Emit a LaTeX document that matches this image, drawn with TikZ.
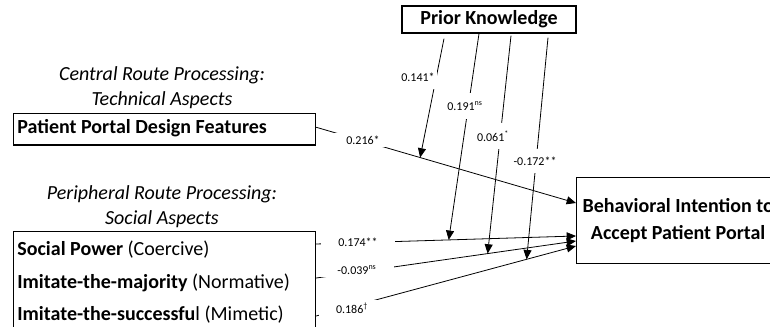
\documentclass[tikz,border=0pt]{standalone}
\usepackage{fontspec}
\setmainfont{Carlito}
\usetikzlibrary{arrows.meta,calc}

\tikzset{
  box/.style={draw, line width=0.9pt, font=\fontsize{15}{20.25}\selectfont\bfseries},
  row/.style={anchor=west, inner sep=0pt, font=\fontsize{15}{18}\selectfont},
  head/.style={align=center, font=\fontsize{15}{18.75}\selectfont\itshape},
  coefh/.style={fill=white, inner xsep=13pt, inner ysep=2pt, font=\fontsize{9}{10}\selectfont},
  coefv/.style={fill=white, inner xsep=1.5pt, inner ysep=6pt, font=\fontsize{9}{10}\selectfont},
}

\begin{document}
\begin{tikzpicture}[x=0.75pt, y=-0.75pt, >={Triangle[length=7pt,width=6pt]}, line width=0.6pt]
    \clip (0,0) rectangle (770,327);

    % route headers
    \node[head] (central) at (162,88) {Central Route Processing:\\Technical Aspects};
    \node[head] (periph) at (162,207) {Peripheral Route Processing:\\Social Aspects};

    % boxes
    \node[box, anchor=north west, minimum width=226.5pt, minimum height=23.5pt] (ppdf) at (13,113) {};
    \node[row, font=\fontsize{15}{18}\selectfont\bfseries] (ppdft) at (17,128) {Patient Portal Design Features};
    \node[box, anchor=north west, minimum width=226.5pt, minimum height=90pt] (social) at (13,231) {};
    \node[row] (sp) at (17,250) {\textbf{Social Power} (Coercive)};
    \node[row] (itm) at (17,283) {\textbf{Imitate-the-majority} (Normative)};
    \node[row] (its) at (17,315) {\textbf{Imitate-the-successfu}l (Mimetic)};
    \node[box, anchor=north west, minimum height=64.5pt, inner xsep=4.5pt,
          align=center] (bi) at (576,177) {Behavioral Intention to\\Accept Patient Portal};
    \node[box, minimum width=130.5pt, minimum height=20.25pt] (pk) at (489,19.5) {Prior Knowledge};

    % end points on the outcome box
    \coordinate (t0) at ($(bi.north west)+(0,26)$);
    \coordinate (t1) at ($(bi.north west)+(0,59)$);
    \coordinate (t2) at ($(bi.north west)+(0,64)$);
    \coordinate (t3) at ($(bi.north west)+(0,69)$);

    % direct effects
    \draw[->] ($(ppdf.east)+(0,-2)$) -- coordinate[pos=0.4] (m0) (t0);
    \draw[->] ($(social.east |- sp)+(0,-6)$) -- coordinate[pos=0.51] (m1) (t1);
    \draw[->] ($(social.east |- itm)+(0,-5)$) -- coordinate[pos=0.66] (m2) (t2);
    \draw[->] ($(social.east |- its)+(0,1)$) -- coordinate[pos=0.81] (m3) (t3);

    % moderating effects
    \draw[->] ($(pk.south)+(-45,5)$) -- (m0);
    \draw[->] ($(pk.south)+(-10,0)$) -- (m1);
    \draw[->] ($(pk.south)+(22,2)$) -- (m2);
    \draw[->] ($(pk.south)+(59,4)$) -- (m3);

    % path coefficients
    \node[coefh] (c0) at (363,140) {0.216*};
    \node[coefh] (c1) at (358,242) {0.174**};
    \node[coefh] (c2) at (357,270) {-0.039\textsuperscript{ns}};
    \node[coefh] (c3) at (352,308) {0.186\textsuperscript{\textdagger}};
    \node[coefv] (c4) at (418,77) {0.141*};
    \node[coefv] (c5) at (465,106) {0.191\textsuperscript{ns}};
    \node[coefv] (c6) at (493,136) {0.061\textsuperscript{*}};
    \node[coefv] (c7) at (535,161) {-0.172**};
\end{tikzpicture}
\end{document}
